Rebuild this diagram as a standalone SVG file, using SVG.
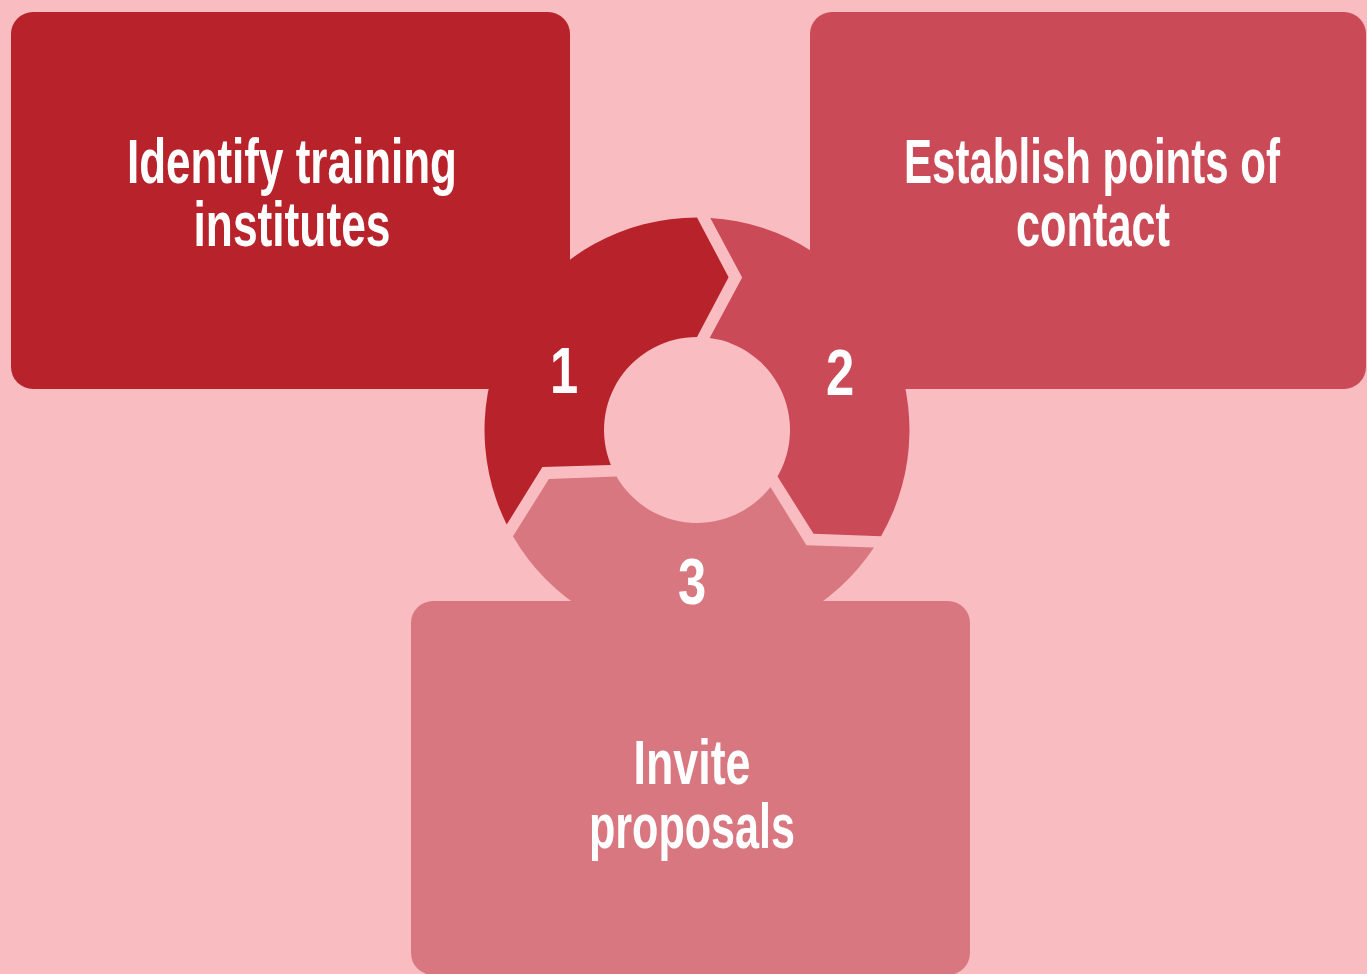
<svg xmlns="http://www.w3.org/2000/svg" width="1367" height="974" viewBox="0 0 1367 974">
  <style>
    .lbl { font-family: "Liberation Sans", Arial, sans-serif; font-weight: bold; font-size: 63px; fill: #FFFFFF; text-anchor: middle; }
    .num { font-family: "Liberation Sans", Arial, sans-serif; font-weight: bold; font-size: 65px; fill: #FFFFFF; text-anchor: middle; }
    .c1 { fill: #B8222A; }
    .c2 { fill: #CB4A57; }
    .c3 { fill: #D97781; }
  </style>
  <defs>
    <path id="seg" d="M 506.7 524.5 A 212.5 212.5 0 0 1 697 217.5 L 728.6 277.2 L 697 337 A 93 93 0 0 0 610.9 465.1 L 542.4 467.1 Z"/>
  </defs>
  <rect x="0" y="0" width="1367" height="974" fill="#F9BDC1"/>

  <g id="cycle">
    <use id="segment-1" href="#seg" class="c1"/>
    <use id="segment-2" href="#seg" class="c2" transform="rotate(120 697 430)"/>
    <use id="segment-3" href="#seg" class="c3" transform="rotate(240 697 430)"/>
  </g>

  <g id="node-1">
    <rect class="c1" x="11" y="12" width="559" height="377" rx="22" ry="22"/>
    <text class="lbl" x="292" y="183" textLength="330" lengthAdjust="spacingAndGlyphs">Identify training</text>
    <text class="lbl" x="292" y="246" textLength="197" lengthAdjust="spacingAndGlyphs">institutes</text>
  </g>

  <g id="node-2">
    <rect class="c2" x="810" y="12" width="556" height="377" rx="22" ry="22"/>
    <text class="lbl" x="1092" y="183" textLength="376" lengthAdjust="spacingAndGlyphs">Establish points of</text>
    <text class="lbl" x="1093" y="246" textLength="154" lengthAdjust="spacingAndGlyphs">contact</text>
  </g>

  <g id="node-3">
    <rect class="c3" x="411" y="601" width="559" height="374" rx="22" ry="22"/>
    <text class="lbl" x="692" y="784" textLength="117" lengthAdjust="spacingAndGlyphs">Invite</text>
    <text class="lbl" x="692" y="848" textLength="206" lengthAdjust="spacingAndGlyphs">proposals</text>
  </g>

  <g id="numbers">
    <text class="num" transform="translate(564 393) scale(0.78 1)">1</text>
    <text class="num" transform="translate(840 395) scale(0.78 1)">2</text>
    <text class="num" transform="translate(692 604) scale(0.78 1)">3</text>
  </g>
</svg>
